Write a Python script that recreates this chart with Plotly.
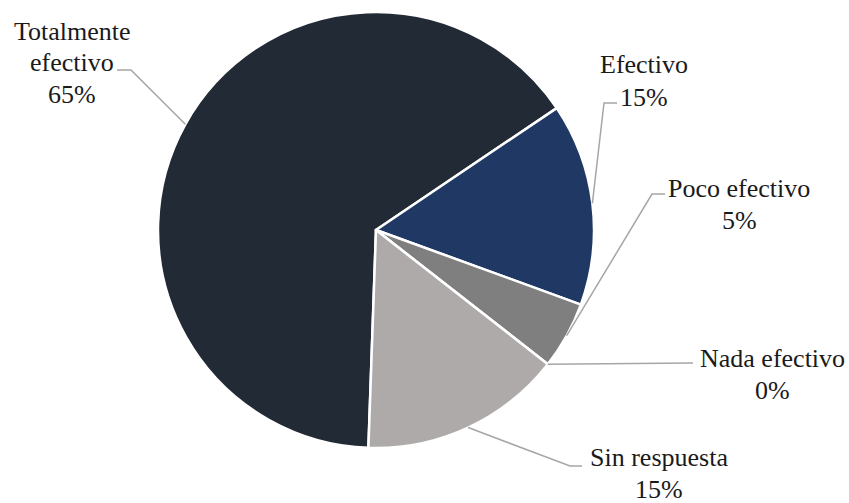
import math
import plotly.graph_objects as go

# ---- data ----
categories = ["Totalmente efectivo", "Efectivo", "Poco efectivo", "Nada efectivo", "Sin respuesta"]
values = [65, 15, 5, 0, 15]
name_lines = [["Totalmente", "efectivo"], ["Efectivo"], ["Poco efectivo"], ["Nada efectivo"], ["Sin respuesta"]]
pct_labels = ["65%", "15%", "5%", "0%", "15%"]

# ---- style ----
colors = ["#222a35", "#1f3864", "#7f7f7f", "#7f7f7f", "#aeaaaa"]
W, H = 849, 503
CX, CY, R = 376, 230, 218
START = 182  # degrees clockwise from 12 o'clock
FONT = "Liberation Serif"
FSIZE = 26
LINE_GAP = 32

# first-line centre of each label block and leader-line elbows/ends (pixels)
label_pos = [(72, 31), (644, 65), (739, 188), (772, 358), (659, 457)]
leader_pts = [
    [(131, 70), (117, 70)],
    [(604, 103), (617, 103)],
    [(652, 194), (665, 194)],
    [(693, 363)],
    [(570, 466), (582, 466)],
]


def px(x):
    return x / W


def py(y):
    return 1 - y / H


fig = go.Figure(go.Pie(
    labels=categories,
    values=values,
    sort=False,
    direction="clockwise",
    rotation=START,
    marker=dict(colors=colors, line=dict(color="white", width=2.5)),
    textinfo="none",
    hoverinfo="label+percent",
    showlegend=False,
    domain=dict(x=[px(CX - R), px(CX + R)], y=[py(CY + R), py(CY - R)]),
))

total = sum(values)
cum = 0
shapes = []
annotations = []
for i, v in enumerate(values):
    mid = START + 360 * (cum + v / 2) / total
    cum += v
    a = math.radians(mid)
    sx = CX + R * math.sin(a)
    sy = CY - R * math.cos(a)
    pts = [(sx, sy)] + leader_pts[i]
    path = "M " + " L ".join(f"{px(x)},{py(y)}" for x, y in pts)
    shapes.append(dict(type="path", xref="paper", yref="paper", path=path,
                       line=dict(color="#a6a6a6", width=1.5)))
    lx, ly = label_pos[i]
    lines = name_lines[i] + [pct_labels[i]]
    for k, t in enumerate(lines):
        annotations.append(dict(x=px(lx), y=py(ly + k * LINE_GAP), xref="paper", yref="paper",
                                text=t, showarrow=False,
                                xanchor="center", yanchor="middle", align="center",
                                font=dict(family=FONT, size=FSIZE, color="#1a1a1a")))

fig.update_layout(
    width=W, height=H,
    margin=dict(l=0, r=0, t=0, b=0),
    paper_bgcolor="white", plot_bgcolor="white",
    shapes=shapes, annotations=annotations,
)

fig.write_html(
    "out.html",
    config={"displayModeBar": False},
    post_script="document.body.style.margin='0';document.body.style.overflow='hidden';",
)
